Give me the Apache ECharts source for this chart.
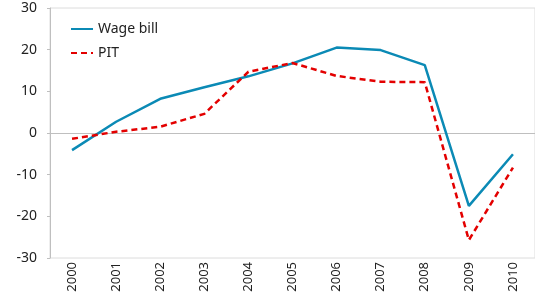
<!DOCTYPE html>
<html>
<head>
<meta charset="utf-8">
<script src="https://cdn.jsdelivr.net/npm/echarts@6/dist/echarts.min.js"></script>
<style>
  html, body { margin: 0; padding: 0; background: #fff; }
  #chart { width: 535px; height: 299px; }
</style>
</head>
<body>
<div id="chart"></div>
<script>
const years = ['2000', '2001', '2002', '2003', '2004', '2005', '2006', '2007', '2008', '2009', '2010'];
const wageBill = [-4.1, 2.7, 8.2, 11.0, 13.6, 16.7, 20.5, 19.9, 16.3, -17.5, -5.1];
const pit = [-1.4, 0.3, 1.5, 4.6, 14.7, 16.8, 13.7, 12.3, 12.2, -25.7, -8.3];

const font = '"Noto Sans", sans-serif';
let myChart = echarts.init(document.getElementById('chart'));

myChart.setOption({
    animation: false,
    grid: {
        left: 50, right: -4.5, top: 8, bottom: 41,
        show: true, borderColor: '#dcdcdc', borderWidth: 1, backgroundColor: 'transparent'
    },
    legend: {
        orient: 'vertical',
        left: 65, top: 17,
        itemWidth: 22, itemHeight: 10, itemGap: 10,
        itemStyle: { opacity: 0 },
        textStyle: { fontFamily: font, fontSize: 14, color: '#222' },
        data: ['Wage bill', 'PIT']
    },
    xAxis: [{
        type: 'category',
        data: years,
        axisLine: { onZero: true, lineStyle: { color: '#bfbfbf', width: 1 } },
        axisTick: { inside: true, length: 5, lineStyle: { color: '#bfbfbf' } },
        axisLabel: { show: false }
    }, {
        type: 'category',
        data: years,
        position: 'bottom',
        axisLine: { show: false, onZero: false },
        axisTick: { show: false },
        axisLabel: { rotate: 90, margin: 4, fontFamily: font, fontSize: 13, color: '#222' }
    }],
    yAxis: {
        type: 'value',
        min: -30, max: 30, interval: 10,
        axisLine: { show: true, lineStyle: { color: '#bfbfbf' } },
        axisTick: { show: true, length: 3, lineStyle: { color: '#bfbfbf' } },
        splitLine: { show: false },
        axisLabel: { margin: 13, fontFamily: font, fontSize: 14, color: '#222' }
    },
    series: [{
        name: 'Wage bill',
        type: 'line',
        data: wageBill,
        symbol: 'none',
        itemStyle: { color: '#0b8ab5' },
        lineStyle: { color: '#0b8ab5', width: 2.5 }
    }, {
        name: 'PIT',
        type: 'line',
        data: pit,
        symbol: 'none',
        itemStyle: { color: '#e30000' },
        lineStyle: { color: '#e30000', width: 2.5, type: [6, 4] }
    }]
});
</script>
</body>
</html>
